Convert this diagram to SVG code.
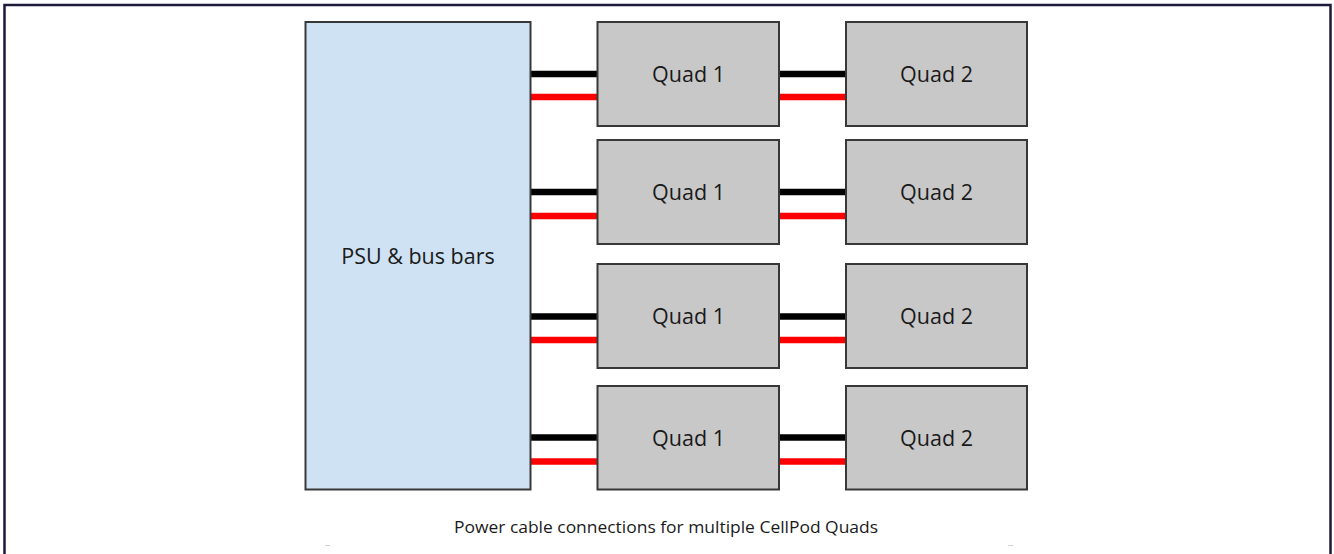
<svg xmlns="http://www.w3.org/2000/svg" width="1334" height="554" viewBox="0 0 1334 554">
<style>
.box{stroke:#383838;stroke-width:2}
.psu{fill:#cfe2f3}
.quad{fill:#c8c8c8}
.lbl{font-family:"Open Sans","Noto Sans","Liberation Sans",sans-serif;font-size:21.5px;fill:#1a1a1a;text-anchor:middle}
.cap{font-family:"Open Sans","Noto Sans","Liberation Sans",sans-serif;font-size:17px;fill:#1a1a1a;text-anchor:middle}
.blk{stroke:#000;stroke-width:6.5}
.red{stroke:#ff0000;stroke-width:6.5}
</style>
<rect width="1334" height="554" fill="#fff"/>
<path d="M4.5,554 V5 H1330.5 V554" fill="none" stroke="#1c1a3a" stroke-width="2.5"/>
<g id="connectors">
<line class="blk" x1="531" y1="74" x2="597" y2="74"/>
<line class="red" x1="531" y1="97" x2="597" y2="97"/>
<line class="blk" x1="779" y1="74" x2="846" y2="74"/>
<line class="red" x1="779" y1="97" x2="846" y2="97"/>
<line class="blk" x1="531" y1="192" x2="597" y2="192"/>
<line class="red" x1="531" y1="216" x2="597" y2="216"/>
<line class="blk" x1="779" y1="192" x2="846" y2="192"/>
<line class="red" x1="779" y1="216" x2="846" y2="216"/>
<line class="blk" x1="531" y1="316.5" x2="597" y2="316.5"/>
<line class="red" x1="531" y1="340" x2="597" y2="340"/>
<line class="blk" x1="779" y1="316.5" x2="846" y2="316.5"/>
<line class="red" x1="779" y1="340" x2="846" y2="340"/>
<line class="blk" x1="531" y1="437.5" x2="597" y2="437.5"/>
<line class="red" x1="531" y1="461.5" x2="597" y2="461.5"/>
<line class="blk" x1="779" y1="437.5" x2="846" y2="437.5"/>
<line class="red" x1="779" y1="461.5" x2="846" y2="461.5"/>
</g>
<g id="psu">
<rect class="box psu" x="305.5" y="22" width="225" height="467.5"/>
<text class="lbl" x="418" y="264">PSU &amp; bus bars</text>
</g>
<g id="quad1-row1"><rect class="box quad" x="597.5" y="22" width="181.5" height="104"/><text class="lbl" x="688.5" y="82">Quad 1</text></g>
<g id="quad2-row1"><rect class="box quad" x="846" y="22" width="181" height="104"/><text class="lbl" x="936.5" y="82">Quad 2</text></g>
<g id="quad1-row2"><rect class="box quad" x="597.5" y="140" width="181.5" height="104"/><text class="lbl" x="688.5" y="200">Quad 1</text></g>
<g id="quad2-row2"><rect class="box quad" x="846" y="140" width="181" height="104"/><text class="lbl" x="936.5" y="200">Quad 2</text></g>
<g id="quad1-row3"><rect class="box quad" x="597.5" y="264" width="181.5" height="104"/><text class="lbl" x="688.5" y="324">Quad 1</text></g>
<g id="quad2-row3"><rect class="box quad" x="846" y="264" width="181" height="104"/><text class="lbl" x="936.5" y="324">Quad 2</text></g>
<g id="quad1-row4"><rect class="box quad" x="597.5" y="386" width="181.5" height="103.5"/><text class="lbl" x="688.5" y="446">Quad 1</text></g>
<g id="quad2-row4"><rect class="box quad" x="846" y="386" width="181" height="103.5"/><text class="lbl" x="936.5" y="446">Quad 2</text></g>
<text class="cap" x="666" y="533" textLength="424" lengthAdjust="spacingAndGlyphs">Power cable connections for multiple CellPod Quads</text>
<g stroke="#d0d0d0" stroke-width="1">
<line x1="325" y1="545.5" x2="330" y2="545.5"/>
<line x1="1008" y1="545.5" x2="1013" y2="545.5"/>
</g>
</svg>
